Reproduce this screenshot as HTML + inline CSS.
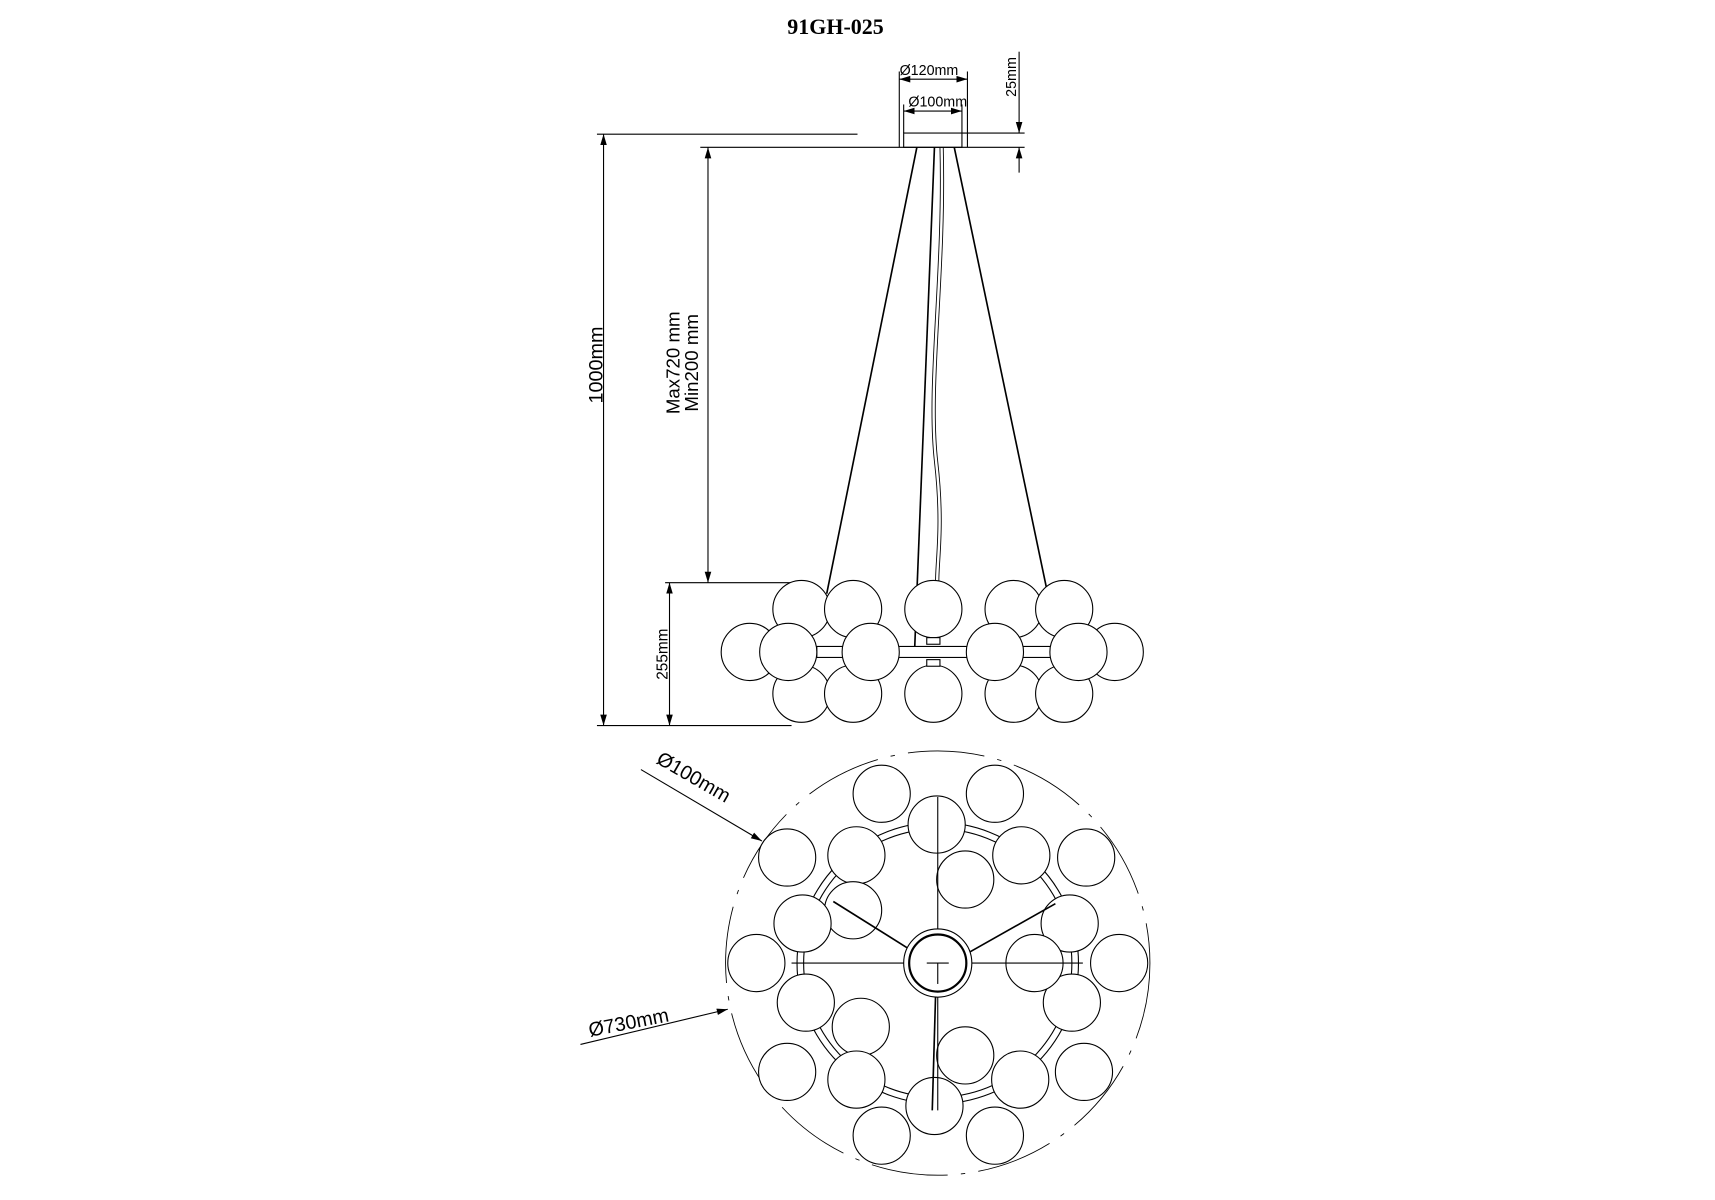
<!DOCTYPE html>
<html><head><meta charset="utf-8"><style>html,body{margin:0;padding:0;background:#fff}svg{display:block}</style></head><body>
<svg width="1715" height="1200" viewBox="0 0 1560 1091.5" xmlns="http://www.w3.org/2000/svg" font-family="Liberation Sans, sans-serif">
<defs>
<marker id="a" viewBox="0 0 10 10" refX="10" refY="5" markerWidth="10" markerHeight="10" markerUnits="userSpaceOnUse" orient="auto-start-reverse"><path d="M0,2 L10,5 L0,8 z" fill="#000"/></marker>
</defs>
<g stroke="#000" stroke-width="1" fill="none">
<text x="760" y="31" font-family="Liberation Serif, serif" font-weight="bold" font-size="20" text-anchor="middle" fill="#000" stroke="none">91GH-025</text>
<rect x="822" y="121" width="53" height="13" fill="#fff"/>
<line x1="543" y1="122" x2="780" y2="122"/>
<line x1="875" y1="121" x2="932" y2="121"/>
<line x1="637" y1="134" x2="932" y2="134"/>
<line x1="927" y1="47" x2="927" y2="121" marker-end="url(#a)"/>
<line x1="927" y1="157" x2="927" y2="134" marker-end="url(#a)"/>
<text transform="translate(924,70) rotate(-90)" font-size="13" text-anchor="middle" fill="#000" stroke="none">25mm</text>
<line x1="818" y1="65" x2="818" y2="134"/><line x1="880" y1="65" x2="880" y2="134"/>
<line x1="818" y1="72" x2="880" y2="72" marker-start="url(#a)" marker-end="url(#a)"/>
<text x="845" y="68" font-size="13" text-anchor="middle" fill="#000" stroke="none">Ø120mm</text>
<line x1="822" y1="95" x2="822" y2="121"/><line x1="875" y1="95" x2="875" y2="121"/>
<line x1="822" y1="101" x2="875" y2="101" marker-start="url(#a)" marker-end="url(#a)"/>
<text x="853" y="97" font-size="13" text-anchor="middle" fill="#000" stroke="none">Ø100mm</text>
<line x1="834" y1="134" x2="752" y2="540" stroke-width="1.5"/>
<line x1="868" y1="134" x2="953" y2="540" stroke-width="1.5"/>
<path d="M850,134 C846,250 840,400 832,590" stroke-width="1.5"/>
<path d="M855,134 C858,250 842,350 850,420 C858,490 848,520 852,540" stroke-width="0.8"/>
<path d="M858,134 C861,250 845,350 853,420 C861,490 851,520 855,540" stroke-width="0.8"/>
<line x1="549" y1="122" x2="549" y2="660" marker-start="url(#a)" marker-end="url(#a)"/>
<line x1="543" y1="660" x2="720" y2="660"/>
<text transform="translate(548,332) rotate(-90)" font-size="18" text-anchor="middle" fill="#000" stroke="none">1000mm</text>
<line x1="644" y1="134" x2="644" y2="530" marker-start="url(#a)" marker-end="url(#a)"/>
<line x1="605" y1="530" x2="735" y2="530"/>
<text transform="translate(618,330) rotate(-90)" font-size="17" text-anchor="middle" fill="#000" stroke="none">Max720 mm</text>
<text transform="translate(635,330) rotate(-90)" font-size="17" text-anchor="middle" fill="#000" stroke="none">Min200 mm</text>
<line x1="609" y1="530" x2="609" y2="660" marker-start="url(#a)" marker-end="url(#a)"/>
<text transform="translate(607,595) rotate(-90)" font-size="14" text-anchor="middle" fill="#000" stroke="none">255mm</text>
<g fill="#fff">
<rect x="743" y="588" width="220" height="10"/>
<circle cx="729" cy="554" r="26"/><circle cx="776" cy="554" r="26"/><circle cx="922" cy="554" r="26"/><circle cx="968" cy="554" r="26"/>
<circle cx="729" cy="631" r="26"/><circle cx="776" cy="631" r="26"/><circle cx="922" cy="631" r="26"/><circle cx="968" cy="631" r="26"/>
<circle cx="849" cy="554" r="26"/><circle cx="849" cy="631" r="26"/>
<rect x="843" y="580" width="12" height="6"/><rect x="843" y="600" width="12" height="6"/>
<circle cx="682" cy="593" r="26"/><circle cx="1014" cy="593" r="26"/>
<circle cx="717" cy="593" r="26"/><circle cx="792" cy="593" r="26"/><circle cx="905" cy="593" r="26"/><circle cx="981" cy="593" r="26"/>
</g>
<circle cx="853" cy="876" r="193" stroke-dasharray="70,12,4,12" stroke-width="0.8"/>
<circle cx="853" cy="876" r="122"/><circle cx="853" cy="876" r="128"/>
<g fill="#fff">
<circle cx="779" cy="778" r="26"/><circle cx="929" cy="778" r="26"/>
<circle cx="733" cy="912" r="26"/><circle cx="975" cy="912" r="26"/>
<circle cx="850" cy="1006" r="26"/>
<circle cx="802" cy="722" r="26"/><circle cx="905" cy="722" r="26"/>
<circle cx="716" cy="780" r="26"/><circle cx="988" cy="780" r="26"/>
<circle cx="852" cy="750" r="26"/>
<circle cx="878" cy="800" r="26"/><circle cx="776" cy="828" r="26"/>
<circle cx="730" cy="840" r="26"/><circle cx="973" cy="840" r="26"/>
<circle cx="688" cy="876" r="26"/><circle cx="1018" cy="876" r="26"/>
<circle cx="941" cy="876" r="26"/>
<circle cx="783" cy="934" r="26"/><circle cx="878" cy="960" r="26"/>
<circle cx="716" cy="975" r="26"/><circle cx="779" cy="982" r="26"/><circle cx="928" cy="982" r="26"/><circle cx="986" cy="975" r="26"/>
<circle cx="802" cy="1033" r="26"/><circle cx="905" cy="1033" r="26"/>
</g>
<line x1="720" y1="876" x2="985" y2="876"/>
<line x1="853" y1="725" x2="853" y2="1010"/>
<line x1="758" y1="820" x2="825" y2="862" stroke-width="1.5"/>
<line x1="882" y1="866" x2="960" y2="822" stroke-width="1.5"/>
<line x1="851" y1="906" x2="848" y2="1010" stroke-width="1.5"/>
<circle cx="853" cy="876" r="31" fill="#fff"/>
<circle cx="853" cy="876" r="26" stroke-width="2"/>
<line x1="843" y1="876" x2="863" y2="876"/><line x1="853" y1="876" x2="853" y2="895"/>
<line x1="583" y1="700" x2="693" y2="765" marker-end="url(#a)"/>
<text transform="translate(628,712) rotate(30)" font-size="18" text-anchor="middle" fill="#000" stroke="none">Ø100mm</text>
<line x1="528" y1="950" x2="662" y2="918" marker-end="url(#a)"/>
<text transform="translate(573,936) rotate(-11)" font-size="18" text-anchor="middle" fill="#000" stroke="none">Ø730mm</text>
</g>
</svg>
</body></html>
